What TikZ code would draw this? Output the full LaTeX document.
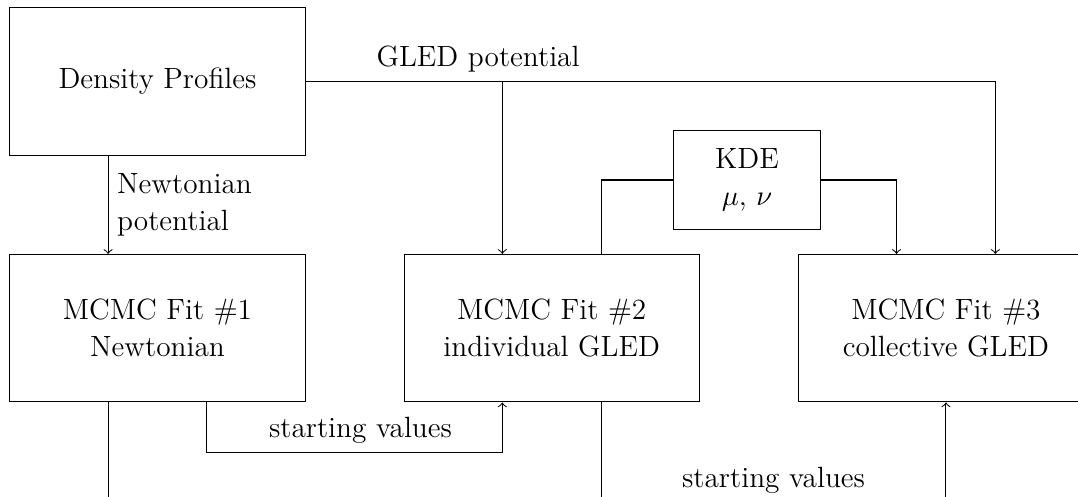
\documentclass[tikz,border=0pt]{standalone}
\usetikzlibrary{positioning}
\begin{document}
\begin{tikzpicture}[x=0.3857pt, y=-0.3857pt, node distance=1.33cm, >=to,
        font=\fontsize{11.3}{14.3}\selectfont,
        box/.style={draw, minimum width=4cm, minimum height=2cm, align=center}]
        \useasboundingbox (0,0) rectangle (1078,497);
        \clip (0,0) rectangle (1078,497);

        % Define Nodes
        \node[box] (density) at (157.5,81.5) {Density Profiles};
        \node[box, below=of density] (fit1) {MCMC Fit \#1\\Newtonian};
        \node[box, right=of fit1] (fit2) {MCMC Fit \#2\\individual GLED};
        \node[box, right=of fit2] (fit3) {MCMC Fit \#3\\collective GLED};
        \node[box, minimum width=2cm, minimum height=1.33cm] (kde) at (747,180) {KDE\\$\mu$, $\nu$};

        % Ports on the boxes
        \coordinate (in1) at ([xshift=-0.67cm]fit1.north);
        \coordinate (in2a) at ([xshift=-0.67cm]fit2.north);
        \coordinate (in2b) at ([xshift=0.67cm]fit2.north);
        \coordinate (in3a) at ([xshift=-0.67cm]fit3.north);
        \coordinate (in3b) at ([xshift=0.67cm]fit3.north);
        \coordinate (out1a) at ([xshift=-0.67cm]fit1.south);
        \coordinate (out1b) at ([xshift=0.67cm]fit1.south);
        \coordinate (in2c) at ([xshift=-0.67cm]fit2.south);
        \coordinate (out2b) at ([xshift=0.67cm]fit2.south);
        \coordinate (low) at (0,520);

        % Draw Edges
        \draw[->] (density.south -| in1) -- node[right, align=left] {Newtonian\\potential} (in1);
        \draw[->] (density.east) -| node[pos=0.125, above] {GLED potential} (in3b);
        \draw[->] (density.east -| in2a) -- (in2a);
        \draw (kde.west) -| (in2b);
        \draw[->] (kde.east) -| (in3a);
        \draw[->] (out1b) -- ++(0,50) -| node[pos=0.26, above] {starting values} (in2c);
        \draw (out1a) -- (out1a |- low);
        \draw[->] (out2b) -- ++(0,100) -| node[pos=0.25, above] {starting values} (fit3.south);
    \end{tikzpicture}
\end{document}
